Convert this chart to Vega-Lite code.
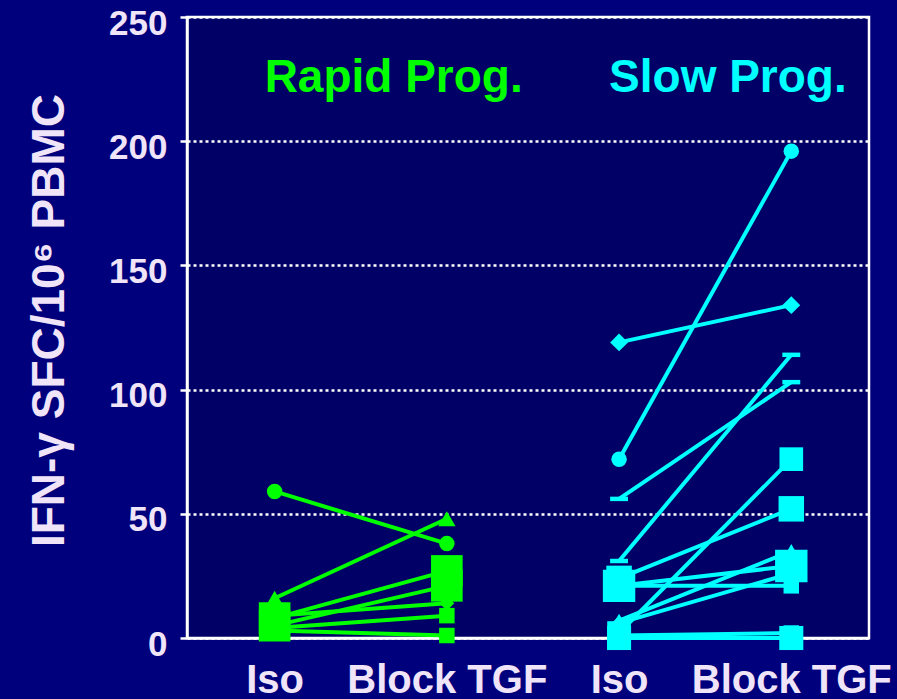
{
  "$schema": "https://vega.github.io/schema/vega-lite/v6.json",
  "width": 682,
  "height": 621,
  "autosize": {"type": "none"},
  "padding": {"left": 187, "top": 17, "right": 28, "bottom": 61},
  "background": "#00007c",
  "config": {
    "view": {"fill": "#000066", "stroke": "#ffffff", "strokeWidth": 2.5},
    "font": "Liberation Sans"
  },
  "datasets": {
    "obs": [
      {"subject": "R1", "group": "Rapid Prog.", "cond": "Rapid|Iso", "value": 59},
      {"subject": "R1", "group": "Rapid Prog.", "cond": "Rapid|Block TGF", "value": 38},
      {"subject": "R2", "group": "Rapid Prog.", "cond": "Rapid|Iso", "value": 16},
      {"subject": "R2", "group": "Rapid Prog.", "cond": "Rapid|Block TGF", "value": 48},
      {"subject": "R3", "group": "Rapid Prog.", "cond": "Rapid|Iso", "value": 8},
      {"subject": "R3", "group": "Rapid Prog.", "cond": "Rapid|Block TGF", "value": 27},
      {"subject": "R4", "group": "Rapid Prog.", "cond": "Rapid|Iso", "value": 5},
      {"subject": "R4", "group": "Rapid Prog.", "cond": "Rapid|Block TGF", "value": 21},
      {"subject": "R5", "group": "Rapid Prog.", "cond": "Rapid|Iso", "value": 9},
      {"subject": "R5", "group": "Rapid Prog.", "cond": "Rapid|Block TGF", "value": 14},
      {"subject": "R6", "group": "Rapid Prog.", "cond": "Rapid|Iso", "value": 4},
      {"subject": "R6", "group": "Rapid Prog.", "cond": "Rapid|Block TGF", "value": 9},
      {"subject": "R7", "group": "Rapid Prog.", "cond": "Rapid|Iso", "value": 3},
      {"subject": "R7", "group": "Rapid Prog.", "cond": "Rapid|Block TGF", "value": 1},
      {"subject": "S1", "group": "Slow Prog.", "cond": "Slow|Iso", "value": 72},
      {"subject": "S1", "group": "Slow Prog.", "cond": "Slow|Block TGF", "value": 196},
      {"subject": "S2", "group": "Slow Prog.", "cond": "Slow|Iso", "value": 119},
      {"subject": "S2", "group": "Slow Prog.", "cond": "Slow|Block TGF", "value": 134},
      {"subject": "S3", "group": "Slow Prog.", "cond": "Slow|Iso", "value": 31},
      {"subject": "S3", "group": "Slow Prog.", "cond": "Slow|Block TGF", "value": 114},
      {"subject": "S4", "group": "Slow Prog.", "cond": "Slow|Iso", "value": 56},
      {"subject": "S4", "group": "Slow Prog.", "cond": "Slow|Block TGF", "value": 103},
      {"subject": "S5", "group": "Slow Prog.", "cond": "Slow|Iso", "value": 2},
      {"subject": "S5", "group": "Slow Prog.", "cond": "Slow|Block TGF", "value": 72},
      {"subject": "S6", "group": "Slow Prog.", "cond": "Slow|Iso", "value": 24},
      {"subject": "S6", "group": "Slow Prog.", "cond": "Slow|Block TGF", "value": 52},
      {"subject": "S7", "group": "Slow Prog.", "cond": "Slow|Iso", "value": 21},
      {"subject": "S7", "group": "Slow Prog.", "cond": "Slow|Block TGF", "value": 21},
      {"subject": "S8", "group": "Slow Prog.", "cond": "Slow|Iso", "value": 21},
      {"subject": "S8", "group": "Slow Prog.", "cond": "Slow|Block TGF", "value": 29},
      {"subject": "S9", "group": "Slow Prog.", "cond": "Slow|Iso", "value": 7},
      {"subject": "S9", "group": "Slow Prog.", "cond": "Slow|Block TGF", "value": 35},
      {"subject": "S10", "group": "Slow Prog.", "cond": "Slow|Iso", "value": 6},
      {"subject": "S10", "group": "Slow Prog.", "cond": "Slow|Block TGF", "value": 26},
      {"subject": "S11", "group": "Slow Prog.", "cond": "Slow|Iso", "value": 1},
      {"subject": "S11", "group": "Slow Prog.", "cond": "Slow|Block TGF", "value": 2},
      {"subject": "S12", "group": "Slow Prog.", "cond": "Slow|Iso", "value": 0},
      {"subject": "S12", "group": "Slow Prog.", "cond": "Slow|Block TGF", "value": 0}
    ]
  },
  "layer": [
    {
      "data": {"name": "obs"},
      "mark": {"type": "line", "strokeWidth": 4},
      "encoding": {
        "x": {
          "field": "cond",
          "type": "ordinal",
          "scale": {
            "type": "point",
            "domain": ["Rapid|Iso", "Rapid|Block TGF", "Slow|Iso", "Slow|Block TGF"],
            "padding": 0.48,
            "align": 0.53
          },
          "axis": {
            "title": null,
            "labelExpr": "split(datum.label, '|')[1]",
            "labelAngle": 0,
            "ticks": false,
            "tickSize": 0,
            "labelPadding": 22,
            "labelFontSize": 40,
            "labelFontWeight": "bold",
            "labelColor": "#f0e4f8",
            "labelLimit": 0,
            "labelOverlap": false,
            "domainColor": "#ffffff",
            "domainWidth": 2.5,
            "grid": false
          }
        },
        "y": {
          "field": "value",
          "type": "quantitative",
          "scale": {"domain": [0, 250], "nice": false, "zero": true},
          "axis": {
            "title": "IFN-γ SFC/10⁶ PBMC",
            "values": [0, 50, 100, 150, 200, 250],
            "grid": true,
            "gridDash": [3, 3],
            "gridColor": "#ffffff",
            "gridWidth": 2.5,
            "gridOpacity": 1,
            "domainColor": "#ffffff",
            "domainWidth": 2.5,
            "tickColor": "#ffffff",
            "tickSize": 7,
            "tickWidth": 2.5,
            "labelFontSize": 35,
            "labelFontWeight": "bold",
            "labelColor": "#f0e4f8",
            "labelPadding": 13,
            "labelOffset": 6,
            "labelOverlap": false,
            "titleFontSize": 46,
            "titleFontWeight": "bold",
            "titleColor": "#f0e4f8",
            "titleAngle": -90,
            "titleAlign": "center",
            "titleBaseline": "alphabetic",
            "titleX": -124,
            "titleY": 303
          }
        },
        "color": {
          "field": "group",
          "type": "nominal",
          "scale": {"domain": ["Rapid Prog.", "Slow Prog."], "range": ["#00ff00", "#00ffff"]},
          "legend": null
        },
        "detail": {"field": "subject"}
      }
    },
    {
      "data": {"name": "obs"},
      "mark": {"type": "point", "filled": true, "opacity": 1, "strokeWidth": 0},
      "encoding": {
        "x": {"field": "cond", "type": "ordinal"},
        "y": {"field": "value", "type": "quantitative"},
        "color": {"field": "group", "type": "nominal", "legend": null},
        "shape": {
          "field": "subject",
          "type": "nominal",
          "scale": {
            "type": "ordinal",
            "domain": ["R1","R2","R3","R4","R5","R6","R7","S1","S2","S3","S4","S5","S6","S7","S8","S9","S10","S11","S12"],
            "range": ["circle","triangle-up","square","square","diamond","square","square","circle","diamond","M-1,-0.25L1,-0.25L1,0.25L-1,0.25Z","M-1,-0.25L1,-0.25L1,0.25L-1,0.25Z","square","square","square","square","triangle-up","diamond","square","square"]
          },
          "legend": null
        },
        "size": {
          "field": "subject",
          "type": "nominal",
          "scale": {
            "type": "ordinal",
            "domain": ["R1","R2","R3","R4","R5","R6","R7","S1","S2","S3","S4","S5","S6","S7","S8","S9","S10","S11","S12"],
            "range": [240, 300, 1000, 1000, 220, 240, 240, 240, 320, 320, 320, 560, 650, 240, 1050, 260, 220, 240, 580]
          },
          "legend": null
        }
      }
    },
    {
      "data": {"values": [
        {"group": "Rapid Prog.", "cond": "Rapid|Iso"},
        {"group": "Slow Prog.", "cond": "Slow|Iso"}
      ]},
      "mark": {"type": "text", "align": "left", "baseline": "alphabetic", "dx": -10, "fontSize": 46, "fontWeight": "bold"},
      "encoding": {
        "x": {"field": "cond", "type": "ordinal"},
        "y": {"datum": 220, "type": "quantitative"},
        "color": {"field": "group", "type": "nominal", "legend": null},
        "text": {"field": "group", "type": "nominal"}
      }
    }
  ]
}
